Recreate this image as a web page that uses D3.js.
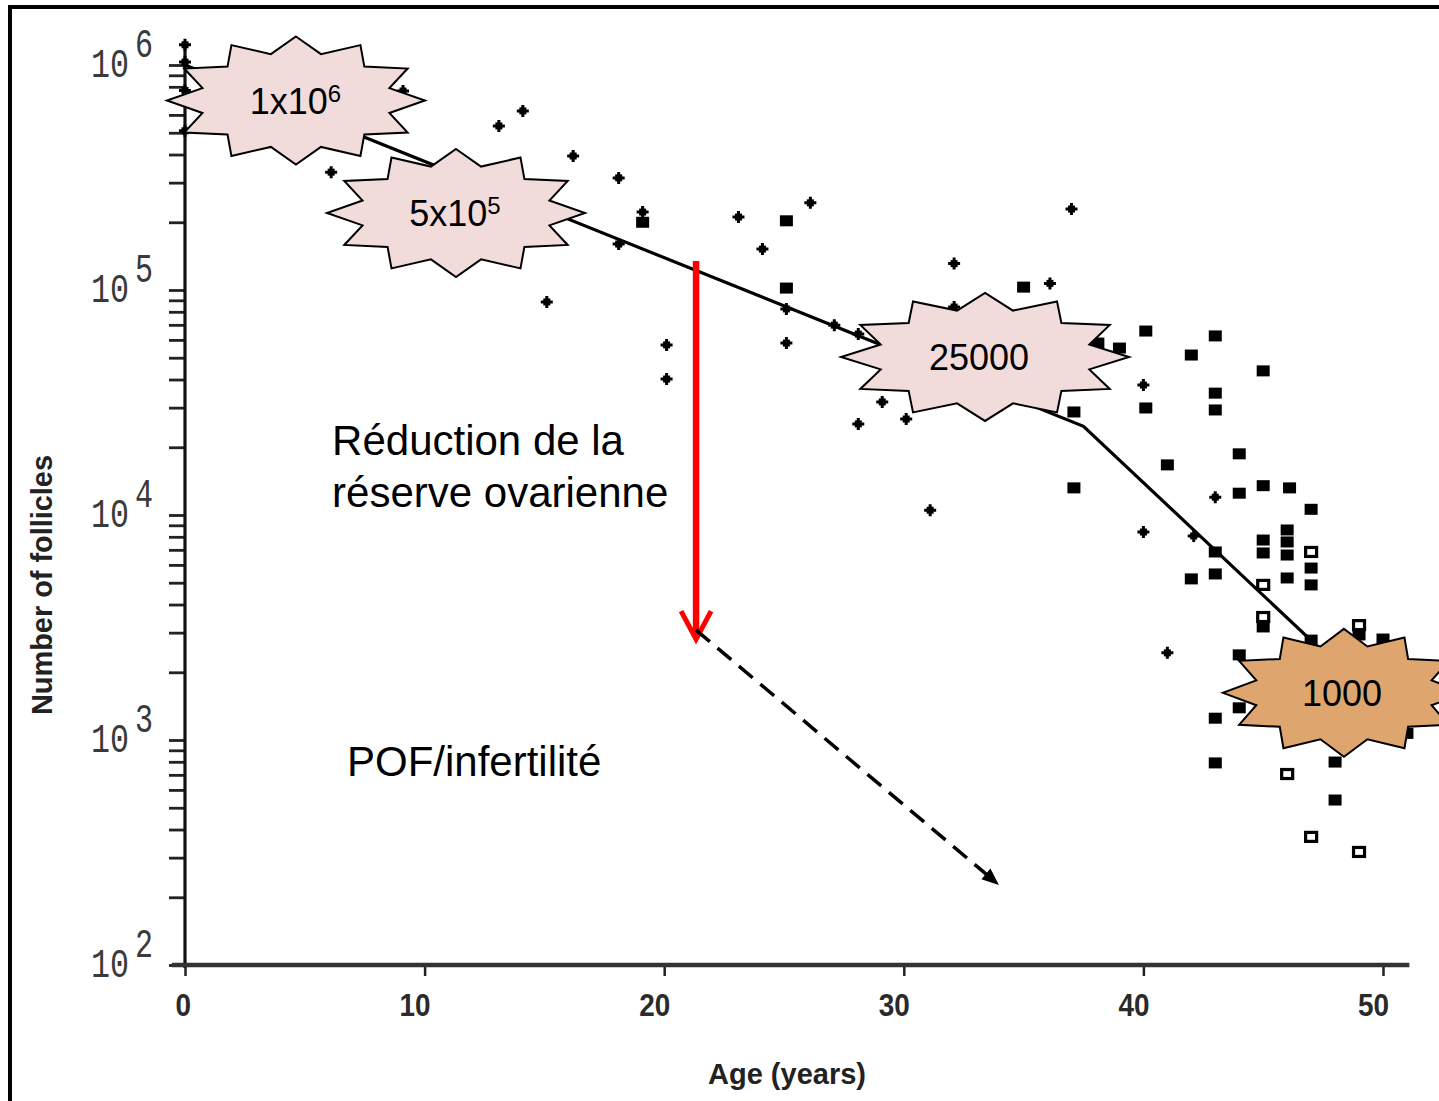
<!DOCTYPE html>
<html><head><meta charset="utf-8">
<script src="https://cdn.jsdelivr.net/npm/d3@7"></script>
<style>html,body{margin:0;padding:0;background:#fff;} svg{display:block;}</style>
</head><body>
<script>
// ---- data (age in years, number of follicles) ----
const plusAge   = [0,0,0,0,6.1,9.1,13.1,14.1,15.1,16.2,18.1,18.1,19.1,20.1,20.1,23.1,24.1,25.1,25.1,26.1,27.1,28.1,28.1,29.1,30.1,31.1,32.1,32.1,36.1,37.0,40.0,40.0,41.0,42.1,43.0];
const plusCount = [1.23e6,1.03e6,7.7e5,5.1e5,3.34e5,7.66e5,5.36e5,6.25e5,8.85e4,3.94e5,3.15e5,1.6e5,2.22e5,5.7e4,4.02e4,2.11e5,1.52e5,8.24e4,5.81e4,2.44e5,6.98e4,6.37e4,2.54e4,3.18e4,2.67e4,1.05e4,1.31e5,8.4e4,1.07e5,2.29e5,3.78e4,8.4e3,2.44e3,8.07e3,1.2e4];
const squareAge   = [19.1,25.1,25.1,35.0,37.1,37.1,38.1,39.0,40.1,40.1,41.0,42.0,42.0,43.0,43.0,43.0,43.0,43.0,43.0,43.0,44.0,44.0,44.0,44.0,45.0,45.0,45.0,45.0,45.0,46.1,46.0,46.0,46.0,46.0,47.0,47.0,47.0,47.0,48.0,48.0,49.0,50.0,51.0];
const squareCount = [2.0e5,2.03e5,1.02e5,1.03e5,2.87e4,1.32e4,5.81e4,5.52e4,6.57e4,2.99e4,1.67e4,5.14e4,5.2e3,6.25e4,3.48e4,2.93e4,6.85e3,5.47e3,1.25e3,791,1.87e4,1.25e4,2.39e3,1.39e3,4.37e4,1.35e4,7.74e3,6.78e3,3.18e3,1.32e4,8.58e3,7.59e3,6.64e3,5.25e3,1.06e4,5.81e3,4.89e3,2.78e3,798,541,2.93e3,2.81e3,1.07e3];
const openAge   = [47.0,45.0,45.0,49.0,46.0,47.0,49.0];
const openCount = [6.85e3,4.89e3,3.52e3,3.24e3,706,371,318];
const fitAge   = [0,37.5,51];
const fitCount = [1e6,24800,1100];
const xTicks = [0,10,20,30,40,50];
const yExponents = [2,3,4,5,6];
const starLabels = ["1x10","5x10","25000","1000"];
const starSups   = ["6","5","",""];
const starAge    = [4.63,11.31,33.39,48.37];
const starCount  = [6.95e5,2.2e5,5.04e4,1.62e3];

const W = 1439, H = 1101;
const svg = d3.select("body").append("svg").attr("width", W).attr("height", H);
const x = d3.scaleLinear().domain([0, 50]).range([185, 1383]);
const y = d3.scaleLog().domain([100, 1e6]).range([965, 65]);

// outer frame (top and left edges visible)
svg.append("line").attr("x1", 8).attr("x2", W).attr("y1", 7).attr("y2", 7).attr("stroke", "#000").attr("stroke-width", 4);
svg.append("line").attr("x1", 10).attr("x2", 10).attr("y1", 5).attr("y2", H).attr("stroke", "#000").attr("stroke-width", 4);

// ---- y axis ----
const minor = [];
for (let e = 2; e < 6; e++) for (let m = 1; m < 10; m++) minor.push(m * Math.pow(10, e));
minor.push(1e6);
const yAx = svg.append("g").attr("transform", `translate(${x(0)},0)`)
  .call(d3.axisLeft(y).tickValues(minor).tickSize(16).tickFormat(""));
yAx.select(".domain").remove();
yAx.selectAll(".tick line").attr("stroke", "#222").attr("stroke-width", 2.8);
svg.append("line").attr("x1", x(0)).attr("x2", x(0)).attr("y1", y(1.25e6)).attr("y2", y(100) + 3)
  .attr("stroke", "#111").attr("stroke-width", 3.2);

const yl = svg.append("g").attr("font-family", "'Liberation Mono', 'DejaVu Sans Mono', monospace").attr("fill", "#3a3a3a");
yExponents.forEach(e => {
  const ty = y(Math.pow(10, e));
  yl.append("text").attr("x", 129).attr("y", ty + 12).attr("text-anchor", "end")
    .attr("font-size", 40).attr("textLength", 38).attr("lengthAdjust", "spacingAndGlyphs").text("10");
  yl.append("text").attr("x", 135).attr("y", ty - 8)
    .attr("font-size", 40).attr("textLength", 18).attr("lengthAdjust", "spacingAndGlyphs").text(String(e));
});

// ---- x axis ----
const xAx = svg.append("g").attr("transform", `translate(0,${y(100)})`)
  .call(d3.axisBottom(x).tickValues(xTicks).tickSize(11).tickFormat(""));
xAx.select(".domain").remove();
xAx.selectAll(".tick line").attr("stroke", "#222").attr("stroke-width", 2.5);
svg.append("line").attr("x1", x(-0.55)).attr("x2", x(51.1)).attr("y1", y(100)).attr("y2", y(100))
  .attr("stroke", "#333").attr("stroke-width", 4.5);
svg.append("g").attr("font-family", "'Liberation Sans', Arial, sans-serif").attr("fill", "#2a2a2a")
  .selectAll("text").data(xTicks).join("text")
  .attr("x", d => x(d) + 6).attr("y", y(100) + 51).attr("text-anchor", "end")
  .attr("font-size", 32).attr("font-weight", "bold")
  .attr("textLength", d => String(d).length * 15.5).attr("lengthAdjust", "spacingAndGlyphs")
  .text(d => d);

// axis titles
svg.append("text").attr("x", 787).attr("y", 1084).attr("text-anchor", "middle")
  .attr("font-family", "'Liberation Sans', Arial, sans-serif").attr("font-size", 30).attr("font-weight", "bold")
  .attr("fill", "#222").attr("textLength", 158).attr("lengthAdjust", "spacingAndGlyphs").text("Age (years)");
svg.append("text").attr("transform", "translate(52,585) rotate(-90)").attr("text-anchor", "middle")
  .attr("font-family", "'Liberation Sans', Arial, sans-serif").attr("font-size", 30).attr("font-weight", "bold")
  .attr("fill", "#222").attr("textLength", 260).attr("lengthAdjust", "spacingAndGlyphs").text("Number of follicles");

// ---- fitted line ----
const fit = fitAge.map((a, i) => [a, fitCount[i]]);
svg.append("path").attr("d", d3.line().x(d => x(d[0])).y(d => y(d[1]))(fit))
  .attr("fill", "none").attr("stroke", "#000").attr("stroke-width", 3.2);

// ---- markers ----
const plusG = svg.append("g");
plusAge.forEach((a, i) => {
  const g = plusG.append("g").attr("transform", `translate(${x(a)},${y(plusCount[i])})`);
  g.append("path").attr("d", "M-6,0H6M0,-6V6").attr("stroke", "#000").attr("stroke-width", 3);
  g.append("rect").attr("x", -3.5).attr("y", -3.5).attr("width", 7).attr("height", 7).attr("fill", "#000");
});
svg.append("g").selectAll("rect").data(squareAge).join("rect")
  .attr("x", d => x(d) - 6.5).attr("y", (d, i) => y(squareCount[i]) - 5.5)
  .attr("width", 13).attr("height", 11).attr("fill", "#000");
svg.append("g").selectAll("rect").data(openAge).join("rect")
  .attr("x", d => x(d) - 5.5).attr("y", (d, i) => y(openCount[i]) - 4.5)
  .attr("width", 11).attr("height", 9).attr("fill", "#fff").attr("stroke", "#000").attr("stroke-width", 3.2);

// ---- star callouts ----
const starW = [129, 129, 144, 121];
const starH = 64;
const starFill = ["#F2DCDB", "#F2DCDB", "#F2DCDB", "#DEA66E"];
const starTextDx = [-0.5, -1, -6, -2];
function star12(cx, cy, w, h) {
  const pts = [];
  for (let k = 0; k < 24; k++) {
    const ang = (-90 + k * 15) * Math.PI / 180;
    const r = k % 2 === 0 ? 1 : 0.75;
    pts.push([cx + r * w * Math.cos(ang), cy + r * h * Math.sin(ang)]);
  }
  return pts;
}
starAge.forEach((a, i) => {
  const cx = x(a), cy = y(starCount[i]);
  svg.append("path").attr("d", d3.line().curve(d3.curveLinearClosed)(star12(cx, cy, starW[i], starH)))
    .attr("fill", starFill[i]).attr("stroke", "#000").attr("stroke-width", 2);
  const t = svg.append("text").attr("x", cx + starTextDx[i]).attr("y", cy + 13).attr("text-anchor", "middle")
    .attr("font-family", "'Liberation Sans', Arial, sans-serif").attr("font-size", 36).attr("fill", "#000");
  t.append("tspan").text(starLabels[i]);
  if (starSups[i]) t.append("tspan").attr("font-size", 24).attr("dy", -12).text(starSups[i]);
});

// ---- annotations ----
const arrowAge = 21.33;
const ax = x(arrowAge), aTop = y(1.345e5), aTip = y(2.78e3);
svg.append("line").attr("x1", ax).attr("x2", ax).attr("y1", aTop).attr("y2", aTip - 3)
  .attr("stroke", "#FF0000").attr("stroke-width", 6.5);
svg.append("path").attr("d", `M${ax - 15},${aTip - 29}L${ax},${aTip - 1}L${ax + 15},${aTip - 29}`)
  .attr("fill", "none").attr("stroke", "#FF0000").attr("stroke-width", 5).attr("stroke-linejoin", "miter");

const dx1 = x(arrowAge), dy1 = y(3.08e3), dx2 = x(33.97), dy2 = y(227);
const ang = Math.atan2(dy2 - dy1, dx2 - dx1);
const back = 14;
svg.append("line").attr("x1", dx1).attr("y1", dy1)
  .attr("x2", dx2 - back * Math.cos(ang)).attr("y2", dy2 - back * Math.sin(ang))
  .attr("stroke", "#000").attr("stroke-width", 3.5).attr("stroke-dasharray", "18,10");
svg.append("path").attr("transform", `translate(${dx2},${dy2}) rotate(${ang * 180 / Math.PI})`)
  .attr("d", "M0,0L-17,-7L-17,7Z").attr("fill", "#000");

const annG = svg.append("g").attr("font-family", "'Liberation Sans', Arial, sans-serif").attr("font-size", 42).attr("fill", "#000");
annG.append("text").attr("x", x(6.14)).attr("y", y(1.85e4)).text("Réduction de la");
annG.append("text").attr("x", x(6.14)).attr("y", y(1.85e4) + 52).text("réserve ovarienne");
annG.append("text").attr("x", x(6.76)).attr("y", y(692)).text("POF/infertilité");
</script>
</body></html>
